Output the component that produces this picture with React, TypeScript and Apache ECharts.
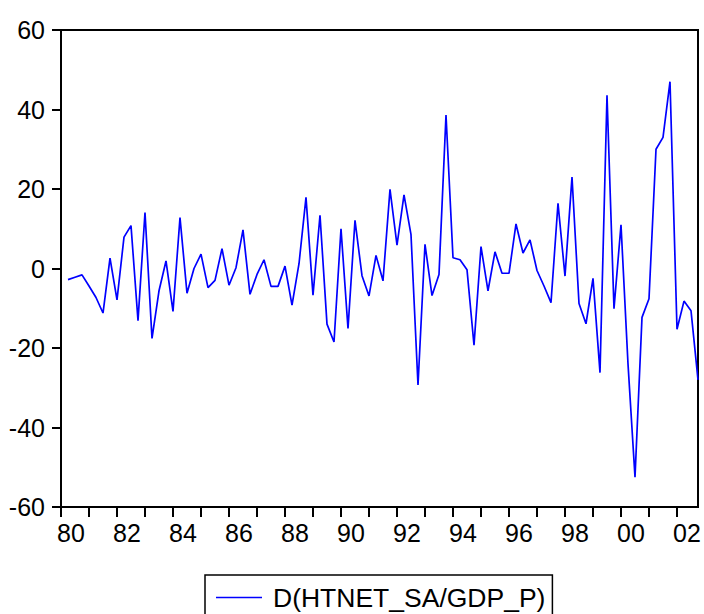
import React, { useEffect, useRef } from "react";
import * as echarts from "echarts";

// D(HTNET_SA/GDP_P), quarterly, 1980Q2 .. 2002Q4
const seriesName = "D(HTNET_SA/GDP_P)";
const firstYear = 1980;
const firstQuarter = 2;
const values: number[] = [
  -2.8, -2.2, -1.6, -4.4, -7.3, -11.2, 2.6, -7.9, 7.9, 10.8, -13.1, 14.1,
  -17.6, -5.6, 1.9, -10.8, 12.8, -6.2, 0.0, 3.6, -4.8, -3.0, 5.0, -4.2,
  0.2, 9.7, -6.5, -1.5, 2.2, -4.5, -4.5, 0.6, -9.2, 1.2, 17.9, -6.7,
  13.4, -14.0, -18.5, 10.0, -15.1, 12.1, -1.8, -6.9, 3.3, -3.1, 19.9, 5.9,
  18.5, 8.5, -29.3, 6.1, -6.8, -1.5, 38.6, 2.7, 2.2, -0.3, -19.3, 5.5,
  -5.6, 4.2, -1.2, -1.2, 11.2, 3.9, 7.2, -0.5, -4.4, -8.6, 16.4, -1.9,
  23.0, -8.8, -13.9, -2.5, -26.2, 43.6, -10.1, 11.0, -24.0, -52.5, -12.3, -7.6,
  30.0, 33.0, 47.0, -15.3, -8.2, -10.6, -28.0,
];
const tickYears: number[] = [
  1980, 1981, 1982, 1983, 1984, 1985, 1986, 1987, 1988, 1989, 1990, 1991,
  1992, 1993, 1994, 1995, 1996, 1997, 1998, 1999, 2000, 2001, 2002,
];
const labelYears: number[] = [
  1980, 1982, 1984, 1986, 1988, 1990, 1992, 1994, 1996, 1998, 2000, 2002,
];
const yMin = -60;
const yMax = 60;
const yStep = 20;

const FONT = "'Liberation Sans', Arial, Helvetica, sans-serif";

export default function App() {
  const ref = useRef<HTMLDivElement>(null);
  useEffect(() => {
    if (!ref.current) return;
    const chart = echarts.init(ref.current, null, { renderer: "svg" });
    const data = values.map((v, i) => [
      firstYear + (firstQuarter - 1 + i) / 4,
      v,
    ]);
    const xMax = firstYear + (firstQuarter - 1 + values.length - 1) / 4;
    chart.setOption({
      animation: false,
      backgroundColor: "#ffffff",
      grid: {
        left: 61,
        top: 30,
        width: 637,
        height: 477,
        show: true,
        borderColor: "#000",
        borderWidth: 2,
        backgroundColor: "transparent",
      },
      legend: {
        left: 205,
        top: 575,
        padding: [9, 7, 24, 11],
        icon: "rect",
        itemWidth: 46,
        itemHeight: 1.3,
        itemStyle: { color: "#0000ff", borderWidth: 0 },
        borderColor: "#000",
        borderWidth: 1.5,
        textStyle: {
          fontFamily: FONT,
          fontSize: 26.5,
          color: "#000",
          padding: [0, 0, 0, 6],
        },
        data: [{ name: seriesName }],
      },
      xAxis: {
        type: "value",
        min: firstYear,
        max: xMax,
        splitLine: { show: false },
        axisLine: { onZero: false, lineStyle: { color: "#000", width: 2 } },
        axisTick: {
          inside: false,
          length: 10,
          customValues: tickYears,
          lineStyle: { color: "#000", width: 2 },
        },
        axisLabel: {
          customValues: labelYears,
          margin: 13,
          fontFamily: FONT,
          fontSize: 25,
          color: "#000",
          padding: [0, 0, 0, 20],
          formatter: (v: number) => String(Math.round(v) % 100).padStart(2, "0"),
        },
      },
      yAxis: {
        type: "value",
        min: yMin,
        max: yMax,
        interval: yStep,
        splitLine: { show: false },
        axisLine: { lineStyle: { color: "#000", width: 2 } },
        axisTick: {
          inside: false,
          length: 9,
          lineStyle: { color: "#000", width: 2 },
        },
        axisLabel: {
          margin: 16,
          fontFamily: FONT,
          fontSize: 25,
          color: "#000",
        },
      },
      series: [
        {
          name: seriesName,
          type: "line",
          data,
          symbol: "none",
          lineStyle: { color: "#0000ff", width: 1.7 },
          itemStyle: { color: "#0000ff" },
        },
      ],
    });
    return () => chart.dispose();
  }, []);
  return (
    <div
      ref={ref}
      style={{ position: "fixed", left: 0, top: 0, width: 704, height: 614 }}
    />
  );
}
